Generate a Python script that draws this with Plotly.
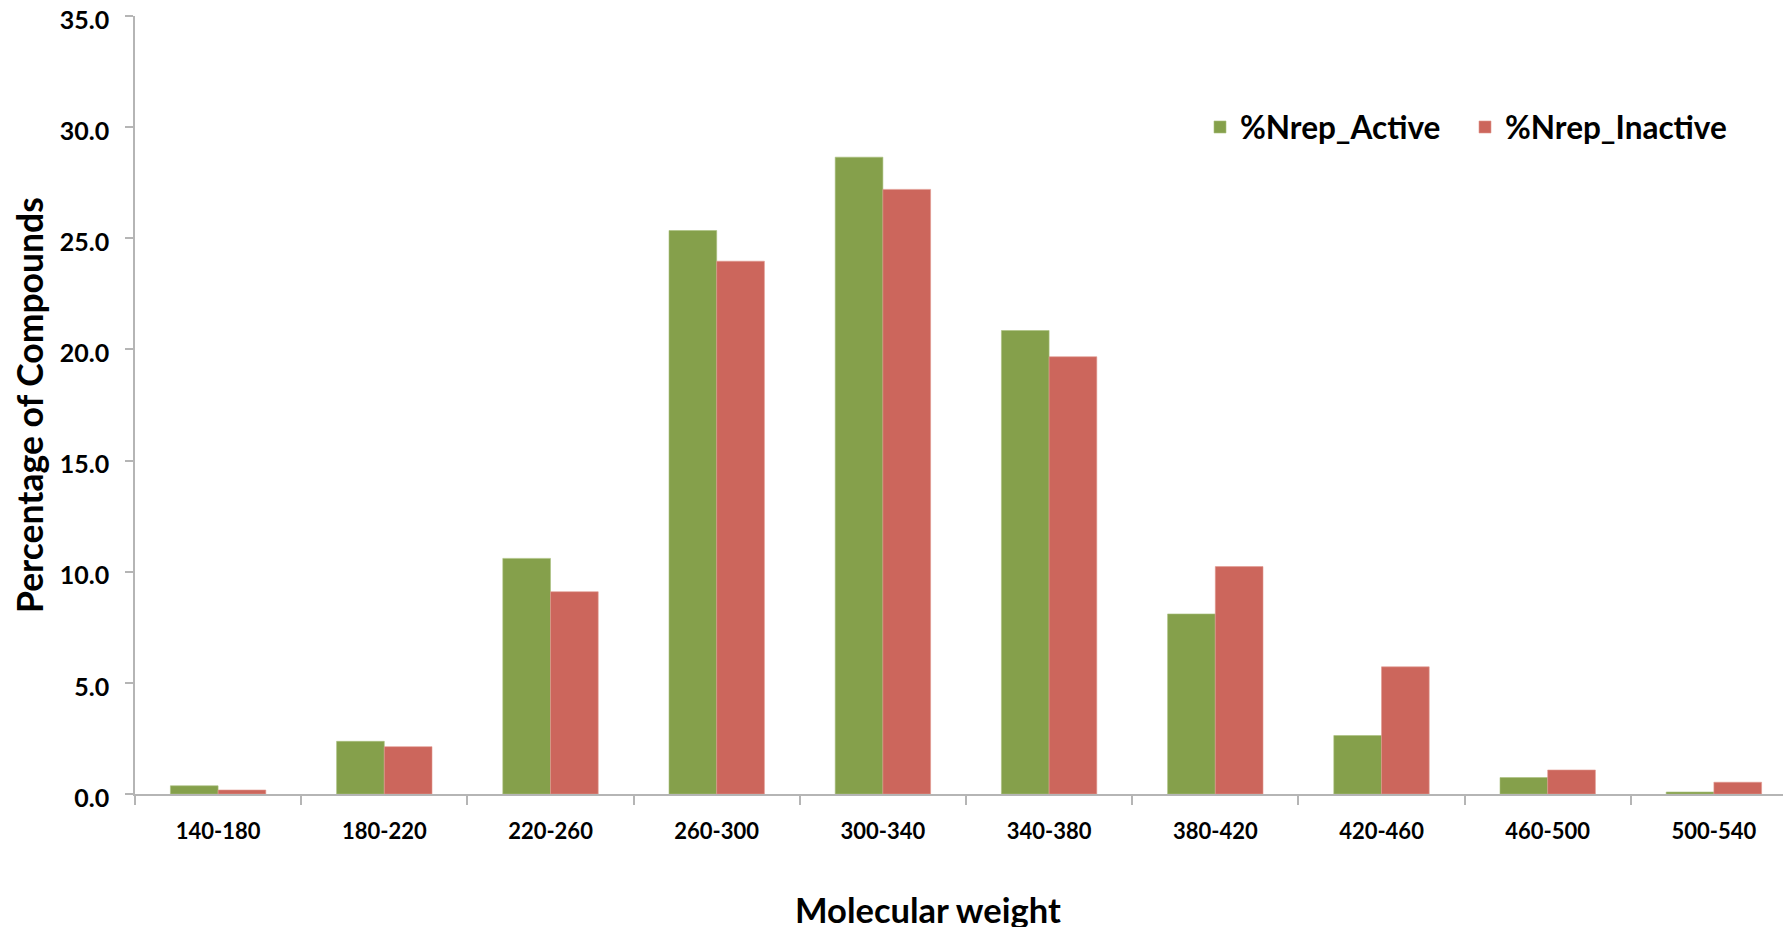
import plotly.graph_objects as go

categories = ["140-180", "180-220", "220-260", "260-300", "300-340",
              "340-380", "380-420", "420-460", "460-500", "500-540"]
active = [0.37, 2.37, 10.6, 25.35, 28.65, 20.85, 8.1, 2.63, 0.74, 0.09]
inactive = [0.18, 2.13, 9.1, 23.97, 27.2, 19.67, 10.23, 5.72, 1.08, 0.53]
series_names = ["%Nrep_Active", "%Nrep_Inactive"]
y_ticks = [0, 5, 10, 15, 20, 25, 30, 35]

GREEN = "#85A04B"
RED = "#CC665C"
FONT = "Lato"

# page body has an 8px margin; figure coords = viewport coords - 8
L, T, B = 127, 8, 141
PW, PH = 1664, 778

fig = go.Figure()
fig.add_trace(go.Bar(x=categories, y=active, name=series_names[0],
                     marker=dict(color=GREEN, line=dict(color="#A9BF7E", width=0.6))))
fig.add_trace(go.Bar(x=categories, y=inactive, name=series_names[1],
                     marker=dict(color=RED, line=dict(color="#E0988F", width=0.6))))

fig.update_layout(
    width=1791, height=927,
    margin=dict(l=L, r=0, t=T, b=B, autoexpand=False),
    paper_bgcolor="white", plot_bgcolor="white",
    barmode="group", bargap=0.426, bargroupgap=0,
    font=dict(family=FONT, size=23, color="black", weight="bold"),
    showlegend=True,
    legend=dict(orientation="h", x=(1192 - L) / PW, y=0.8573, xanchor="left", yanchor="middle",
                font=dict(family=FONT, size=31.5, color="black", weight="bold"),
                entrywidth=220, entrywidthmode="pixels",
                bgcolor="rgba(0,0,0,0)", traceorder="normal"),
    xaxis=dict(
        type="category", range=[-0.5, -0.5 + PW / 166.2],
        showline=True, linecolor="#B5B5B5", linewidth=1.5,
        ticks="outside", tickson="boundaries", ticklen=9, tickcolor="#B5B5B5",
        tickwidth=1.5, showgrid=False, zeroline=False,
        tickfont=dict(family=FONT, size=22, color="black", weight="bold"),
        ticklabelstandoff=17,
    ),
    yaxis=dict(
        range=[0, 35], tickvals=y_ticks, tickformat=".1f",
        showline=True, linecolor="#B5B5B5", linewidth=1.5,
        ticks="outside", ticklen=8, tickcolor="#B5B5B5", tickwidth=1.5,
        showgrid=False, zeroline=False, ticklabeloverflow="allow",
        tickfont=dict(family=FONT, size=25, color="black", weight="bold"),
        ticklabelstandoff=11, ticklabelshift=4,
    ),
    annotations=[
        dict(text="Percentage of Compounds", xref="paper", yref="paper",
             x=(21 - L) / PW, y=0.5, xanchor="center", yanchor="middle",
             textangle=-90, showarrow=False,
             font=dict(family=FONT, size=35.5, color="black", weight="bold")),
        dict(text="Molecular weight", xref="paper", yref="paper",
             x=(919.5 - L) / PW, y=-(901 - 786) / PH, xanchor="center", yanchor="middle",
             showarrow=False,
             font=dict(family=FONT, size=34.5, color="black", weight="bold")),
    ],
)

fig.write_html("out.html")
